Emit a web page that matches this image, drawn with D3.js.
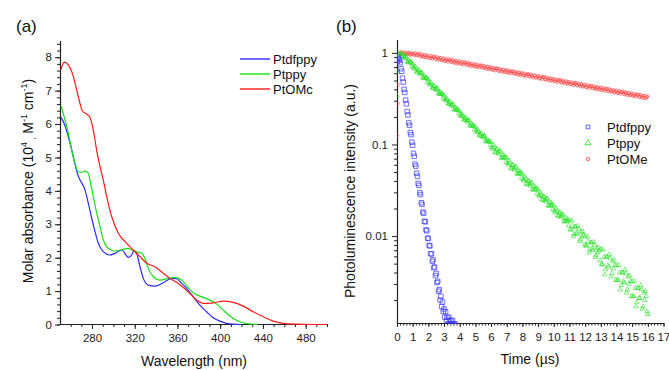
<!DOCTYPE html>
<html><head><meta charset="utf-8">
<script src="https://cdn.jsdelivr.net/npm/d3@7"></script>
<style>
html,body{margin:0;padding:0;background:#fff;}
svg{display:block;font-family:"Liberation Sans",Arial,sans-serif;}
</style></head>
<body><svg id="c" width="669" height="370"></svg>
<script>
// ---------- Panel (a): absorption spectra ----------
const wlBlue  = [251,254.7,257.8,261,264,267,268.7,273.4,276.5,279.7,282.8,285.9,290.5,296.8,301.5,307.8,314,317.1,319.3,321.8,324.9,328,332.7,339,346.7,354.6,359.2,364,368.5,374.8,381,387.3,393.5,399.8,406,412,420];
const absBlue = [6.20,5.95,5.62,5.22,4.80,4.45,4.33,4.03,3.63,3.18,2.78,2.43,2.18,2.08,2.13,2.23,2.01,2.08,2.21,2.13,1.73,1.38,1.18,1.15,1.25,1.38,1.37,1.23,1.08,0.83,0.58,0.38,0.20,0.10,0.035,0.01,0.0];
const wlGreen  = [251,254.7,257.8,261,264,267,270.3,273.5,276.5,278,281.2,284.4,287.5,290.6,295.2,301.5,309.3,314,320.2,326.5,329.6,332.7,337.4,343.6,351.4,357.7,363.9,370,374.8,381,390.4,398.2,404.5,412.3,420.1,427.9,435];
const absGreen = [6.54,6.12,5.72,5.22,4.83,4.57,4.55,4.60,4.53,4.33,3.83,3.33,2.93,2.53,2.28,2.20,2.25,2.28,2.18,2.13,1.98,1.68,1.43,1.33,1.38,1.41,1.33,1.10,0.95,0.85,0.73,0.58,0.38,0.18,0.06,0.015,0.0];
const wlRed  = [251,254,257.8,262.5,265.6,268.7,270.9,275,278,281.2,284.3,287.5,290.5,293.7,298.4,304.6,310.9,318.6,324.9,331.2,339,346.7,353,360.8,370,378,384.2,393.5,402.9,412.3,421.6,431,440.4,449.7,459,471.6,485,500];
const absRed = [7.64,7.85,7.77,7.42,7.02,6.62,6.39,6.30,6.20,5.82,5.22,4.72,4.33,3.83,3.23,2.73,2.48,2.23,2.03,1.83,1.73,1.53,1.38,1.23,0.98,0.73,0.63,0.65,0.70,0.66,0.55,0.38,0.23,0.10,0.035,0.01,0.0,0.0];
const seriesA = ["Ptdfppy","Ptppy","PtOMc"];
const wlTicks = [280,320,360,400,440,480];
const absTicks = [0,1,2,3,4,5,6,7,8];

// ---------- Panel (b): decay curves ----------
const seriesB = ["Ptdfppy","Ptppy","PtOMe"];
// sampling: blue every 0.05 µs from 0; green/red every 0.1 µs from 0, plus in-between samples from 0.05
const decayBlue = [0.80,0.90,0.86,0.83,0.78,0.67,0.63,0.53,0.48,0.40,0.37,0.305,0.278,0.229,0.210,0.172,0.162,0.135,0.128,0.106,
0.098,0.080,0.0745,0.0610,0.0580,0.0485,0.0450,0.0376,0.0358,0.0298,0.0284,0.0231,0.0222,0.0183,0.0177,0.0145,0.0143,0.0117,0.0114,0.0095,
0.0094,0.0079,0.0078,0.0064,0.0064,0.0053,0.0055,0.0045,0.0046,0.0037,0.0039,0.0031,0.0032,0.0025,0.0026,0.0020,0.0022,0.0017,0.0019,0.0015,
0.0016,0.0013,0.0015,0.0012,0.0013,0.0011,0.0013,0.0012,0.0011,0.0012,0.0011,0.0012,0.0011,0.0011,0.0011];
const decayGreen = [0.34,0.93,1.00,0.913,0.960,0.869,0.896,0.786,0.787,0.783,
0.760,0.671,0.681,0.613,0.644,0.583,0.601,0.527,0.528,0.526,
0.510,0.450,0.458,0.411,0.433,0.392,0.404,0.354,0.355,0.353,
0.343,0.302,0.307,0.276,0.290,0.263,0.271,0.238,0.238,0.237,
0.230,0.203,0.206,0.185,0.194,0.176,0.182,0.159,0.160,0.159,
0.155,0.136,0.138,0.124,0.131,0.119,0.122,0.108,0.107,0.107,
0.1059,0.0895,0.0932,0.0812,0.0895,0.0787,0.0837,0.0704,0.0720,0.0726,
0.0712,0.0601,0.0625,0.0545,0.0600,0.0528,0.0562,0.0472,0.0483,0.0487,
0.0477,0.0402,0.0420,0.0366,0.0403,0.0354,0.0377,0.0318,0.0324,0.0328,
0.0321,0.0271,0.0282,0.0246,0.0270,0.0238,0.0254,0.0212,0.0218,0.0219,
0.0215,0.0181,0.0189,0.0165,0.0181,0.0159,0.0170,0.0143,0.0146,0.0147,
0.0150,0.0117,0.0129,0.0105,0.0126,0.0105,0.0119,0.0092,0.0098,0.0103,
0.0100,0.0078,0.0087,0.0071,0.0085,0.0070,0.0080,0.0062,0.0066,0.0069,
0.0072,0.0049,0.0059,0.0043,0.0060,0.0046,0.0057,0.0039,0.0044,0.0048,
0.0048,0.0033,0.0040,0.0029,0.0040,0.0031,0.0039,0.0026,0.0030,0.0032,
0.0032,0.0022,0.0027,0.0019,0.0027,0.0021,0.0026,0.0017,0.0020,0.0022,
0.0014];
const decayGreenMid = [0.62,0.98,0.932,0.961,0.896,0.913,0.803,0.827,0.807,0.716,
0.692,0.713,0.625,0.645,0.601,0.613,0.538,0.555,0.541,0.481,
0.464,0.478,0.420,0.433,0.404,0.412,0.362,0.373,0.364,0.323,
0.312,0.321,0.282,0.291,0.271,0.276,0.243,0.250,0.244,0.217,
0.209,0.215,0.189,0.195,0.182,0.185,0.163,0.168,0.164,0.146,
0.141,0.145,0.127,0.131,0.122,0.125,0.109,0.113,0.110,0.0975,
0.0927,0.0990,0.0829,0.0887,0.0815,0.0855,0.0718,0.0767,0.0755,0.0644,
0.0623,0.0664,0.0556,0.0595,0.0547,0.0573,0.0482,0.0514,0.0507,0.0432,
0.0418,0.0445,0.0374,0.0400,0.0367,0.0385,0.0324,0.0346,0.0340,0.0291,
0.0281,0.0299,0.0251,0.0269,0.0246,0.0258,0.0217,0.0232,0.0229,0.0195,
0.0188,0.0200,0.0168,0.0180,0.0165,0.0173,0.0146,0.0156,0.0153,0.0130,
0.0118,0.0147,0.0099,0.0126,0.0108,0.0129,0.0088,0.0111,0.0112,0.0081,
0.0079,0.0098,0.0066,0.0085,0.0073,0.0086,0.0059,0.0074,0.0075,0.0054,
0.0049,0.0071,0.0038,0.0059,0.0048,0.0063,0.0036,0.0053,0.0055,0.0033,
0.0033,0.0048,0.0026,0.0040,0.0032,0.0043,0.0024,0.0036,0.0037,0.0022,
0.0022,0.0032,0.0017,0.0027,0.0021,0.0029,0.0016,0.0024,0.0025,0.0015];
const decayRed = [0.125,0.45,0.98,1.02,0.97,1.00,0.955,1.01,0.96,0.99,
0.975,0.935,0.985,0.94,0.981,0.913,0.943,0.896,0.949,0.900,
0.939,0.874,0.894,0.910,0.912,0.849,0.877,0.832,0.882,0.836,
0.873,0.812,0.831,0.846,0.848,0.789,0.815,0.773,0.819,0.777,
0.811,0.755,0.772,0.786,0.788,0.733,0.758,0.719,0.761,0.723,
0.755,0.701,0.718,0.730,0.732,0.681,0.704,0.668,0.708,0.672,
0.701,0.652,0.667,0.679,0.680,0.632,0.654,0.620,0.657,0.624,
0.651,0.605,0.620,0.630,0.632,0.588,0.608,0.577,0.611,0.580,
0.605,0.563,0.576,0.586,0.588,0.547,0.566,0.537,0.569,0.540,
0.563,0.524,0.536,0.545,0.546,0.508,0.525,0.498,0.528,0.501,
0.523,0.486,0.498,0.506,0.507,0.472,0.488,0.463,0.490,0.466,
0.485,0.452,0.462,0.470,0.472,0.438,0.453,0.430,0.456,0.432,
0.451,0.420,0.430,0.438,0.439,0.408,0.422,0.400,0.423,0.403,
0.420,0.391,0.400,0.407,0.408,0.379,0.392,0.372,0.393,0.374,
0.390,0.363,0.371,0.378,0.379,0.352,0.365,0.345,0.366,0.348,
0.362,0.338,0.345,0.352,0.352,0.328,0.338,0.321,0.340,0.323,
0.336];
const decayRedMid = [0.28,0.80,1.00,0.975,1.015,0.965,0.99,1.005,0.95,0.985,
0.96,0.99,0.945,0.966,0.926,0.970,0.921,0.948,0.890,0.920,
0.881,0.925,0.860,0.898,0.860,0.902,0.856,0.880,0.827,0.854,
0.819,0.859,0.799,0.834,0.800,0.838,0.796,0.818,0.768,0.794,
0.762,0.798,0.742,0.776,0.743,0.780,0.740,0.761,0.714,0.739,
0.708,0.742,0.690,0.721,0.690,0.724,0.688,0.707,0.664,0.686,
0.658,0.690,0.641,0.670,0.642,0.672,0.639,0.657,0.617,0.638,
0.611,0.640,0.596,0.622,0.597,0.625,0.594,0.611,0.573,0.593,
0.568,0.595,0.554,0.578,0.555,0.582,0.552,0.568,0.534,0.551,
0.528,0.554,0.515,0.538,0.516,0.540,0.513,0.527,0.496,0.512,
0.491,0.514,0.479,0.500,0.478,0.502,0.476,0.490,0.460,0.476,
0.456,0.478,0.444,0.464,0.445,0.466,0.443,0.456,0.428,0.442,
0.424,0.444,0.413,0.432,0.414,0.434,0.412,0.423,0.397,0.412,
0.394,0.414,0.385,0.402,0.385,0.403,0.383,0.393,0.369,0.382,
0.366,0.384,0.357,0.373,0.357,0.374,0.356,0.366,0.343,0.355,
0.340,0.357,0.332,0.347,0.332,0.349,0.330,0.340,0.319,0.330];
const timeTicks = d3.range(0,18);
const intTicks = [1,0.1,0.01];

const colA = ["#2b2bff","#16e016","#ff1a1a"];
const colB = ["#3c3cff","#22e022","#ff4a4a"];

const svg = d3.select("#c");
const FONT_TICK = 11.5, FONT_LAB = 14;

// ===== Panel (a) =====
const xA = d3.scaleLinear([250,500],[60,327]);
const yA = d3.scaleLinear([0,8.5],[324.5,40.5]);
const gA = svg.append("g");

function styleAxis(g){
  g.selectAll(".domain").attr("stroke","#222").attr("stroke-width",1.1);
  g.selectAll(".tick line").attr("stroke","#222");
  g.selectAll(".tick text").attr("fill","#222").style("font-size",FONT_TICK+"px").style("font-family",'"Liberation Sans",Arial,sans-serif');
}
gA.append("g").attr("transform","translate(0,324)")
  .call(d3.axisBottom(xA).tickValues(d3.range(260,501,10)).tickSize(3).tickSizeOuter(0).tickFormat(""))
  .call(styleAxis);
gA.append("g").attr("transform","translate(0,324)")
  .call(d3.axisBottom(xA).tickValues(wlTicks).tickSize(5).tickSizeOuter(0).tickPadding(5))
  .call(styleAxis);
gA.append("g").attr("transform","translate(60,0)")
  .call(d3.axisLeft(yA).tickValues(d3.range(0,8.41,0.2)).tickSize(3).tickSizeOuter(0).tickFormat(""))
  .call(styleAxis);
gA.append("g").attr("transform","translate(60,0)")
  .call(d3.axisLeft(yA).tickValues(absTicks).tickSize(5).tickSizeOuter(0).tickPadding(3).tickFormat(d3.format("d")))
  .call(styleAxis);

const lineA = d3.line().x(d=>xA(d[0])).y(d=>yA(d[1])).curve(d3.curveMonotoneX);
const dataA = [d3.zip(wlBlue,absBlue), d3.zip(wlGreen,absGreen), d3.zip(wlRed,absRed)];
gA.selectAll(".sp").data(dataA).join("path").attr("class","sp")
  .attr("d",lineA).attr("fill","none").attr("stroke",(d,i)=>colA[i]).attr("stroke-width",1.2);

const legA = gA.append("g");
seriesA.forEach((s,i)=>{
  const y = 59 + i*15;
  legA.append("line").attr("x1",240).attr("x2",270).attr("y1",y).attr("y2",y).attr("stroke",colA[i]).attr("stroke-width",1.4);
  legA.append("text").attr("x",273).attr("y",y+4.5).text(s).style("font-size","13px").attr("fill","#111");
});

gA.append("text").attr("x",194).attr("y",366).attr("text-anchor","middle").style("font-size",FONT_LAB+"px").attr("fill","#111").text("Wavelength (nm)");
const ylA = gA.append("text").attr("transform","translate(33,181) rotate(-90)").attr("text-anchor","middle").style("font-size",FONT_LAB+"px").attr("fill","#111");
ylA.append("tspan").text("Molar absorbance (10");
ylA.append("tspan").attr("dy",-6).style("font-size","9px").text("4");
ylA.append("tspan").attr("dy",8).style("font-size","8px").text(" ,");
ylA.append("tspan").attr("dy",-2).text(" M");
ylA.append("tspan").attr("dy",-6).style("font-size","9px").text("-1");
ylA.append("tspan").attr("dy",6).text(" cm");
ylA.append("tspan").attr("dy",-6).style("font-size","9px").text("-1");
ylA.append("tspan").attr("dy",6).text(")");
gA.append("text").attr("x",16).attr("y",32).style("font-size","17px").attr("fill","#111").text("(a)");

// ===== Panel (b) =====
const xB = d3.scaleLinear([0,17],[397,663.5]);
const yB = d3.scaleLog([0.00111,1.4],[323.5,39.5]);
const gB = svg.append("g");
gB.append("g").attr("transform","translate(0,323)")
  .call(d3.axisBottom(xB).tickValues(d3.range(0,17.01,0.2)).tickSize(2.5).tickSizeOuter(0).tickFormat(""))
  .call(styleAxis);
gB.append("g").attr("transform","translate(0,323)")
  .call(d3.axisBottom(xB).tickValues(timeTicks).tickSize(4).tickSizeOuter(0).tickPadding(6).tickFormat(d3.format("d")))
  .call(styleAxis);
const minorLog = [];
[0.001,0.01,0.1].forEach(b=>{for(let k=2;k<=9;k++){const v=b*k; if(v>=0.00111) minorLog.push(v);}});
gB.append("g").attr("transform","translate(397,0)")
  .call(d3.axisLeft(yB).tickValues(minorLog).tickSize(3).tickSizeOuter(0).tickFormat(""))
  .call(styleAxis);
gB.append("g").attr("transform","translate(397,0)")
  .call(d3.axisLeft(yB).tickValues(intTicks).tickSize(5).tickSizeOuter(0).tickPadding(4).tickFormat(d=>String(d)))
  .call(styleAxis);

svg.append("clipPath").attr("id","clipB").append("rect").attr("x",397).attr("y",39).attr("width",270).attr("height",285);
const plotB = gB.append("g").attr("clip-path","url(#clipB)");

const ptsBlue = decayBlue.map((v,i)=>[i*0.05,v]);
const ptsGreen = decayGreen.map((v,i)=>[i*0.1,v]).concat(decayGreenMid.map((v,i)=>[0.05+i*0.1,v]));
const ptsRed = decayRed.map((v,i)=>[i*0.1,v]).concat(decayRedMid.map((v,i)=>[0.05+i*0.1,v]));

const symSq = d3.symbol().type(d3.symbolSquare).size(20);
const symTri = d3.symbol().type(d3.symbolTriangle).size(9);
plotB.selectAll(".pr").data(ptsRed).join("circle").attr("class","pr")
  .attr("cx",d=>xB(d[0])).attr("cy",d=>yB(d[1])).attr("r",1.5)
  .attr("fill","none").attr("stroke",colB[2]).attr("stroke-width",0.7).attr("opacity",0.85);
plotB.selectAll(".pg").data(ptsGreen).join("path").attr("class","pg")
  .attr("transform",d=>`translate(${xB(d[0])},${yB(d[1])})`).attr("d",symTri)
  .attr("fill","none").attr("stroke",colB[1]).attr("stroke-width",0.7).attr("opacity",0.85);
plotB.selectAll(".pb").data(ptsBlue).join("path").attr("class","pb")
  .attr("transform",d=>`translate(${xB(d[0])},${yB(d[1])})`).attr("d",symSq)
  .attr("fill","none").attr("stroke",colB[0]).attr("stroke-width",0.8).attr("opacity",0.9);

const legB = gB.append("g");
const legSyms = [d3.symbol().type(d3.symbolSquare).size(14), d3.symbol().type(d3.symbolTriangle).size(16), null];
seriesB.forEach((s,i)=>{
  const y = 127 + i*16;
  if(i<2) legB.append("path").attr("transform",`translate(588,${y})`).attr("d",legSyms[i]).attr("fill","none").attr("stroke",colB[i]).attr("stroke-width",0.8);
  else legB.append("circle").attr("cx",588).attr("cy",y).attr("r",1.8).attr("fill","none").attr("stroke",colB[i]).attr("stroke-width",0.8);
  legB.append("text").attr("x",607).attr("y",y+4.5).text(s).style("font-size","13px").attr("fill","#111");
});

gB.append("text").attr("x",530).attr("y",364).attr("text-anchor","middle").style("font-size",FONT_LAB+"px").attr("fill","#111").text("Time (\u00b5s)");
gB.append("text").attr("transform","translate(355,191) rotate(-90)").attr("text-anchor","middle").style("font-size",FONT_LAB+"px").attr("fill","#111").text("Photoluminescence intensity (a.u.)");
gB.append("text").attr("x",336).attr("y",32).style("font-size","17px").attr("fill","#111").text("(b)");
</script></body></html>
